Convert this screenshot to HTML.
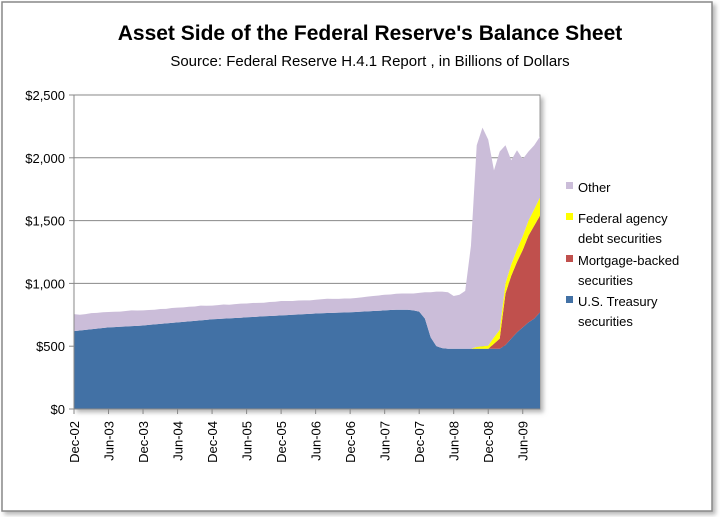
<!DOCTYPE html>
<html><head><meta charset="utf-8"><style>
body{margin:0;background:#fff;width:720px;height:517px;overflow:hidden;font-family:"Liberation Sans",sans-serif;}
</style></head><body>
<svg width="720" height="517" style="position:absolute;left:0;top:0">
<defs><filter id="sh" x="-5%" y="-5%" width="115%" height="115%"><feDropShadow dx="3" dy="3" stdDeviation="2" flood-color="#888" flood-opacity="0.6"/></filter></defs>
<rect x="2" y="2" width="710" height="509" fill="#fff" stroke="#888" stroke-width="1.5" filter="url(#sh)"/>
<text x="370" y="40" text-anchor="middle" font-size="21" font-weight="bold" fill="#000">Asset  Side of the Federal Reserve's Balance Sheet</text>
<text x="370" y="66" text-anchor="middle" font-size="15" fill="#000">Source: Federal Reserve H.4.1 Report , in Billions of Dollars</text>
<rect x="74" y="95" width="466" height="314" fill="#fff" stroke="#999" filter="url(#sh)"/>
<g id="grid"></g><g id="areas"></g><g id="axes"></g><g id="legend"></g>
</svg>
<script>
const months=["Dec-02","Jun-03","Dec-03","Jun-04","Dec-04","Jun-05","Dec-05","Jun-06","Dec-06","Jun-07","Dec-07","Jun-08","Dec-08","Jun-09"];
const yTicks=[0,500,1000,1500,2000,2500];
const yLabels=["$0","$500","$1,000","$1,500","$2,000","$2,500"];
const treasury=[620,625,630,635,640,645,650,652,655,657,660,662,665,670,674,678,682,686,690,694,698,702,706,710,715,717,720,722,725,727,730,732,735,738,740,742,745,747,750,752,755,757,760,762,764,765,767,768,770,772,775,777,780,782,785,788,790,790,790,785,775,720,570,500,485,480,480,480,480,480,480,480,480,480,480,510,560,610,650,690,720,770];
const mbs=[0,0,0,0,0,0,0,0,0,0,0,0,0,0,0,0,0,0,0,0,0,0,0,0,0,0,0,0,0,0,0,0,0,0,0,0,0,0,0,0,0,0,0,0,0,0,0,0,0,0,0,0,0,0,0,0,0,0,0,0,0,0,0,0,0,0,0,0,0,0,0,0,0,40,80,410,500,560,616,690,740,770];
const agency=[0,0,0,0,0,0,0,0,0,0,0,0,0,0,0,0,0,0,0,0,0,0,0,0,0,0,0,0,0,0,0,0,0,0,0,0,0,0,0,0,0,0,0,0,0,0,0,0,0,0,0,0,0,0,0,0,0,0,0,0,0,0,0,0,0,0,0,0,0,0,15,20,25,50,70,80,90,100,110,120,130,145];
const other=[135,125,125,128,125,125,122,122,120,123,125,122,120,118,116,118,115,118,117,115,116,114,117,112,108,110,112,108,110,112,110,112,110,108,112,112,115,113,110,112,110,108,110,112,114,112,110,112,110,112,114,118,120,122,125,124,128,130,130,135,150,210,360,435,450,450,420,430,460,820,1605,1740,1640,1330,1420,1100,830,790,614,550,510,485];
const NS="http://www.w3.org/2000/svg";
const x0=74,x1=540,y0=409,y1=95;
const xs=i=>x0+i*(x1-x0)/81;
const ys=v=>y0-v*(y0-y1)/2500;
function mk(tag,attrs,parent){const e=document.createElementNS(NS,tag);for(const k in attrs)e.setAttribute(k,attrs[k]);parent.appendChild(e);return e;}
const grid=document.getElementById('grid'),areas=document.getElementById('areas'),axes=document.getElementById('axes'),legend=document.getElementById('legend');
yTicks.forEach((t,k)=>{
 if(t>0){const g=mk('line',{x1:x0,x2:x1,y1:ys(t),y2:ys(t),stroke:'#888','stroke-width':1},grid);
 
 }
 const tk=mk('line',{x1:x0-5,x2:x0,y1:ys(t),y2:ys(t),stroke:'#888'},axes);
 
 
 const tx=mk('text',{x:x0-9,y:ys(t)+5,'text-anchor':'end','font-size':13,fill:'#000'},axes);
 tx.textContent=yLabels[k];
 
 
});
const series=[[treasury,'#4271a5','treasury-area'],[mbs,'#c0504d','mbs-area'],[agency,'#ffff00','agency-area'],[other,'#cbbdd9','other-area']];
let base=treasury.map(()=>0);
series.forEach(([arr,col,name])=>{
 const top=arr.map((v,i)=>base[i]+v);
 let pts=top.map((v,i)=>xs(i)+','+ys(v));
 for(let i=arr.length-1;i>=0;i--)pts.push(xs(i)+','+ys(base[i]));
 const p=mk('polygon',{points:pts.join(' '),fill:col},areas);
 
 
 base=top;
});
mk('line',{x1:x0,x2:x0,y1:y1,y2:y0,stroke:'#888'},axes);
mk('line',{x1:x0,x2:x1,y1:y0,y2:y0,stroke:'#888'},axes);
months.forEach((m,k)=>{
 const x=xs(k*6);
 const tk=mk('line',{x1:x,x2:x,y1:y0,y2:y0+5,stroke:'#888'},axes);
 
 
 const tx=mk('text',{x:0,y:0,'text-anchor':'end','font-size':13,fill:'#000',transform:`translate(${x+5},${y0+12}) rotate(-90)`},axes);
 tx.textContent=m;
 
 
});
const leg=[['Other',null,'#cbbdd9',187],['Federal agency','debt securities','#ffff00',218],['Mortgage-backed','securities','#c0504d',260],['U.S. Treasury','securities','#4271a5',301]];
leg.forEach(([a,b,c,y])=>{
 const g=mk('g',{},legend);
 
 
 mk('rect',{x:566,y:y-5,width:7,height:7,fill:c},g);
 const t=mk('text',{x:578,y:y+5,'font-size':13,fill:'#000'},g);t.textContent=a;
 if(b){const t2=mk('text',{x:578,y:y+25,'font-size':13,fill:'#000'},g);t2.textContent=b;}
});
</script>
</body></html>
